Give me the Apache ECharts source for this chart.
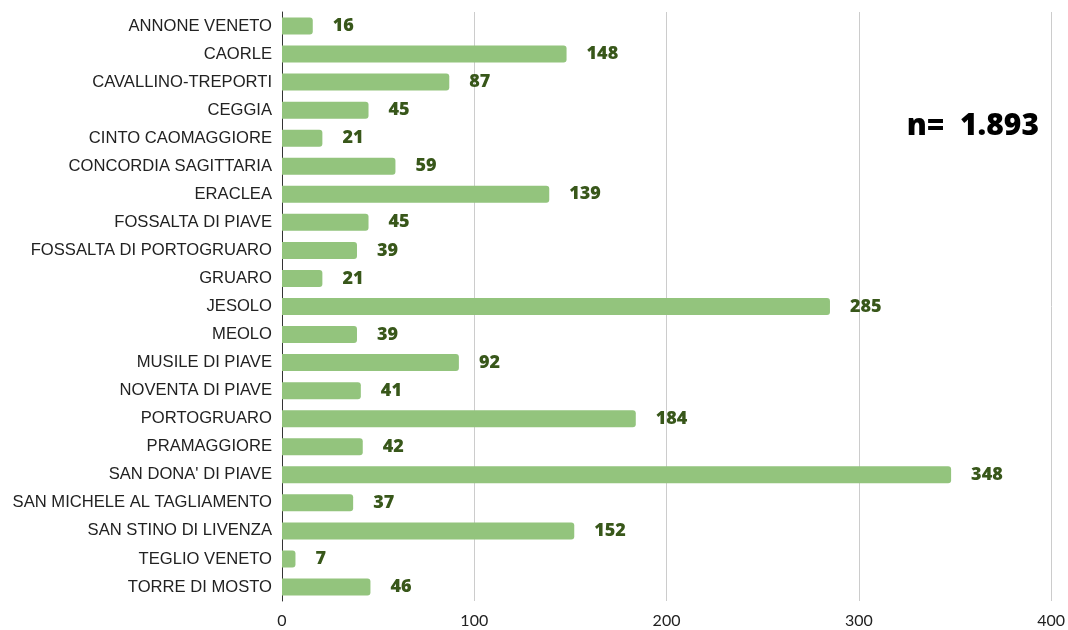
<!DOCTYPE html>
<html><head><meta charset="utf-8">
<script src="https://cdn.jsdelivr.net/npm/echarts@6/dist/echarts.min.js"></script>
<style>html,body{margin:0;padding:0;background:#fff}#c{width:1068px;height:630px}</style>
</head><body><div id="c"></div>
<script>
const categories = ["ANNONE VENETO","CAORLE","CAVALLINO-TREPORTI","CEGGIA","CINTO CAOMAGGIORE","CONCORDIA SAGITTARIA","ERACLEA","FOSSALTA DI PIAVE","FOSSALTA DI PORTOGRUARO","GRUARO","JESOLO","MEOLO","MUSILE DI PIAVE","NOVENTA DI PIAVE","PORTOGRUARO","PRAMAGGIORE","SAN DONA' DI PIAVE","SAN MICHELE AL TAGLIAMENTO","SAN STINO DI LIVENZA","TEGLIO VENETO","TORRE DI MOSTO"];
const values = [16,148,87,45,21,59,139,45,39,21,285,39,92,41,184,42,348,37,152,7,46];
const totalLabel = "n=  1.893";
const chart = echarts.init(document.getElementById('c'));
chart.setOption({
  animation:false,
  grid:{left:282,right:16,top:12,bottom:29,containLabel:false},
  graphic:[{type:'text',right:29,top:111,style:{text:totalLabel,font:'800 30px "Open Sans"',fill:'#000'}}],
  xAxis:{type:'value',min:0,max:400,interval:100,
    axisLine:{show:false},axisTick:{show:false},
    splitLine:{lineStyle:{color:'#cccccc',width:1}},
    axisLabel:{color:'#222',fontFamily:'Lato',fontSize:16,margin:12}},
  yAxis:{type:'category',data:categories,inverse:true,
    axisLine:{show:true,lineStyle:{color:'#333',width:1}},axisTick:{show:false},
    axisLabel:{color:'#222',fontFamily:'Liberation Sans',fontSize:16.6,margin:10}},
  series:[{type:'bar',data:values,barWidth:17,
    itemStyle:{color:'#93c47d',borderRadius:[0,3,3,0]},
    label:{show:true,position:'right',distance:20,color:'#38571a',fontFamily:'Open Sans',fontWeight:800,fontSize:18}}]
});
</script></body></html>
